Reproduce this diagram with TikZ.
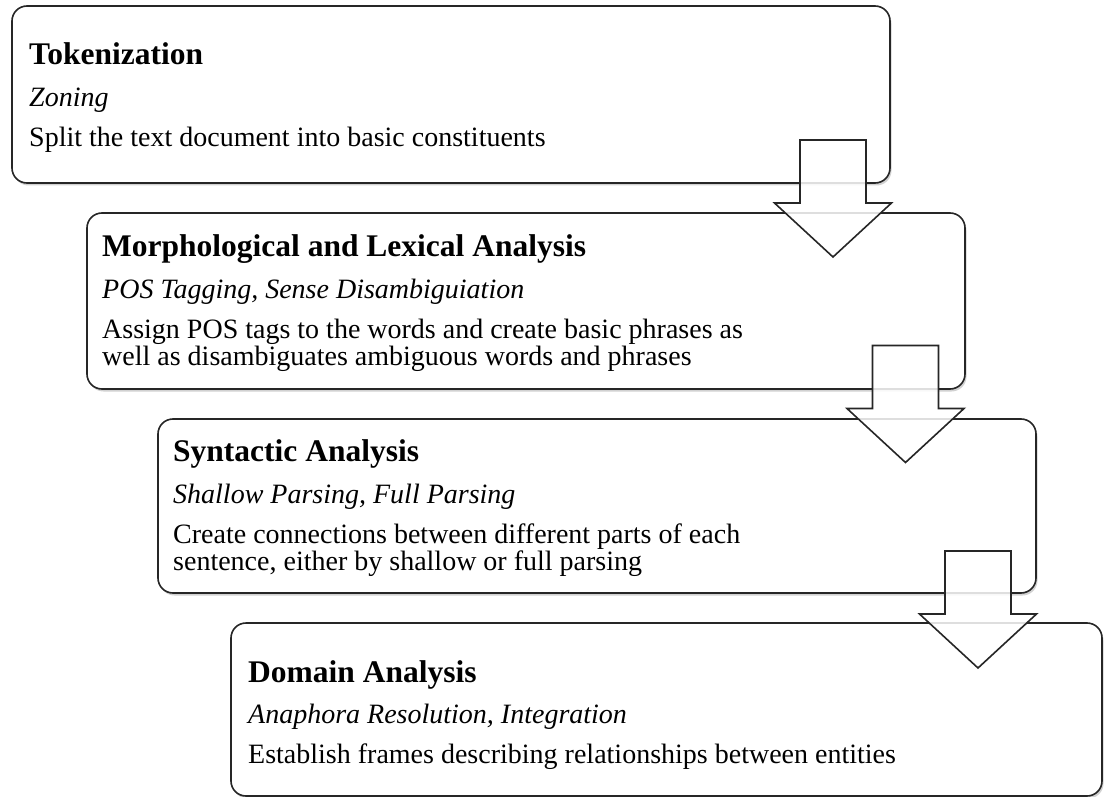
\documentclass[tikz,border=0pt]{standalone}
\usepackage{fontspec}
\setmainfont{Liberation Serif}
\usetikzlibrary{shadows}
\begin{document}
\begin{tikzpicture}[x=1pt,y=-1pt,
  stagebox/.style={draw=black!85, line width=1.6pt, rounded corners=15pt, fill=white,
    drop shadow={shadow xshift=1.5pt, shadow yshift=-2.5pt, opacity=0.3, fill=black!60},
    inner sep=0pt},
  blockarrow/.style={draw=black!85, line width=1.6pt, fill=white, fill opacity=0.85, line join=miter},
  titletext/.style={anchor=base west, inner sep=0pt, font=\fontsize{31.5}{34}\bfseries\selectfont},
  subtext/.style={anchor=base west, inner sep=0pt, font=\fontsize{28}{30}\itshape\selectfont},
  bodytext/.style={anchor=base west, inner sep=0pt, font=\fontsize{28}{30}\selectfont}]
\useasboundingbox (0,0) rectangle (1104,797);
% boxes
\node[stagebox, minimum width=878pt, minimum height=177pt] (b1) at (451,94.5) {};
\node[stagebox, minimum width=878pt, minimum height=176pt] (b2) at (526,301) {};
\node[stagebox, minimum width=878pt, minimum height=174pt] (b3) at (597,506) {};
\node[stagebox, minimum width=871pt, minimum height=173pt] (b4) at (666.5,709.5) {};
% block arrows between stages
\foreach \cx/\ty in {833/140, 905.5/345.5, 978/551}{
  \draw[blockarrow] (\cx-33,\ty) -- (\cx+33,\ty) -- (\cx+33,\ty+63) -- (\cx+58.5,\ty+63)
    -- (\cx,\ty+117) -- (\cx-58.5,\ty+63) -- (\cx-33,\ty+63) -- cycle;
}
% texts
\node[titletext] (t1) at (29,65) {Tokenization};
\node[subtext] (s1) at (29,107) {Zoning};
\node[bodytext] (d1) at (29,147) {Split the text document into basic constituents};

\node[titletext] (t2) at (102,256) {Morphological and Lexical Analysis};
\node[subtext] (s2) at (102,298) {POS Tagging, Sense Disambiguiation};
\node[bodytext] (d2a) at (102,338) {Assign POS tags to the words and create basic phrases as};
\node[bodytext] (d2b) at (102,365) {well as disambiguates ambiguous words and phrases};

\node[titletext] (t3) at (173,461) {Syntactic Analysis};
\node[subtext] (s3) at (173,503) {Shallow Parsing, Full Parsing};
\node[bodytext] (d3a) at (173,543) {Create connections between different parts of each};
\node[bodytext] (d3b) at (173,570) {sentence, either by shallow or full parsing};

\node[titletext] (t4) at (248,682) {Domain Analysis};
\node[subtext] (s4) at (248,723) {Anaphora Resolution, Integration};
\node[bodytext] (d4) at (248,763) {Establish frames describing relationships between entities};
\end{tikzpicture}
\end{document}
